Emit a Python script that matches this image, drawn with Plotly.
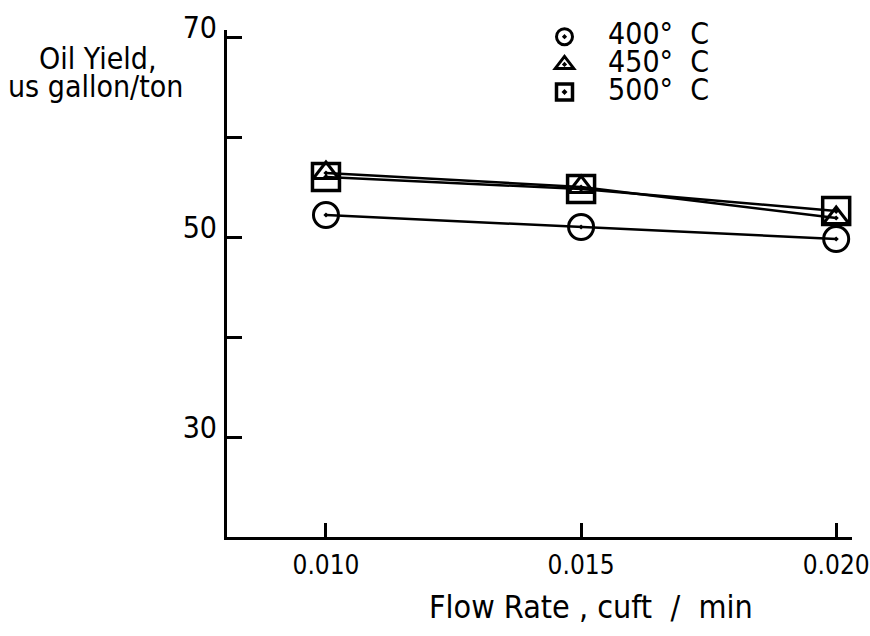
import plotly.graph_objects as go

flow_rate = [0.010, 0.015, 0.020]
yield_400 = [52.2, 51.0, 49.8]
yield_450 = [56.4, 55.0, 51.9]
yield_500 = [56.0, 54.8, 52.6]
series_names = ["400°&nbsp;&nbsp;C", "450°&nbsp;&nbsp;C", "500°&nbsp;&nbsp;C"]
y_tickvals = [30, 40, 50, 60, 70]
y_ticktext = ["30", "", "50", "", "70"]
x_tickvals = [0.010, 0.015, 0.020]
x_ticktext = ["0.010", "0.015", "0.020"]

FONT = "DejaVu Sans Condensed, DejaVu Sans, sans-serif"

def big(t):
    return '<span style="font-size:30px">&nbsp;' + t + '</span>'

fig = go.Figure()
styles = [
    (yield_400, "circle-open-dot", 25, 3),
    (yield_450, "triangle-up-open-dot", 22, 3),
    (yield_500, "square-open-dot", 27, 3.5),
]
for (ys, sym, sz, lw), name in zip(styles, series_names):
    fig.add_trace(go.Scatter(
        x=flow_rate, y=ys, mode="lines", showlegend=False,
        line=dict(color="black", width=2.5), hoverinfo="skip",
    ))
for (ys, sym, sz, lw), name in zip(styles, series_names):
    fig.add_trace(go.Scatter(
        x=flow_rate, y=ys, mode="markers", name=big(name),
        marker=dict(symbol=sym, size=sz, color="black", line=dict(color="black", width=lw)),
    ))

fig.update_layout(
    width=870, height=636,
    margin=dict(l=227, r=18, t=30, b=99, autoexpand=False),
    paper_bgcolor="white", plot_bgcolor="white",
    font=dict(family=FONT, color="black", size=27),
    showlegend=True,
    legend=dict(x=0.484, y=1.024, xanchor="left", yanchor="top", xref="paper", yref="paper",
                font=dict(size=19, family=FONT), itemwidth=60, bgcolor="rgba(0,0,0,0)",
                tracegroupgap=0, itemsizing="trace"),
    xaxis=dict(range=[0.00806, 0.02031], showline=True, linecolor="black", linewidth=3,
               showgrid=False, zeroline=False, ticks="inside", ticklen=14, tickwidth=3,
               tickcolor="black", tickvals=x_tickvals, ticktext=x_ticktext,
               tickfont=dict(size=26, family=FONT), ticklabelstandoff=3),
    yaxis=dict(range=[20, 70.7], showline=True, linecolor="black", linewidth=3,
               showgrid=False, zeroline=False, ticks="inside", ticklen=15, tickwidth=3,
               tickcolor="black", tickvals=y_tickvals, ticktext=y_ticktext,
               tickfont=dict(size=30, family=FONT), ticklabelstandoff=1, ticklabelshift=-10),
    annotations=[
        dict(text="Oil Yield,", xref="paper", yref="paper",
             x=-0.206, y=0.943, xanchor="center", yanchor="middle", showarrow=False,
             font=dict(size=30, family=FONT)),
        dict(text="us gallon/ton", xref="paper", yref="paper",
             x=-0.211, y=0.889, xanchor="center", yanchor="middle", showarrow=False,
             font=dict(size=30, family=FONT)),
        dict(text="Flow Rate , cuft  /  min", xref="paper", yref="paper",
             x=0.583, y=-0.138, xanchor="center", yanchor="middle", showarrow=False,
             font=dict(size=32, family=FONT)),
    ],
)

fig.write_html("out.html")
